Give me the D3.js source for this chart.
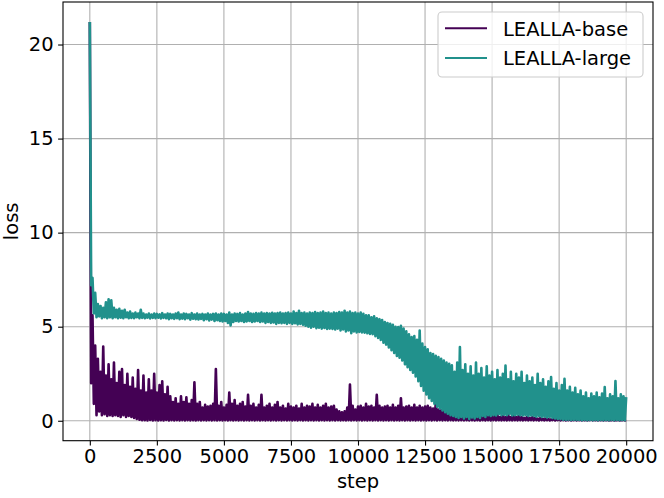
<!DOCTYPE html>
<html>
<head>
<meta charset="utf-8">
<script src="https://cdn.jsdelivr.net/npm/d3@7"></script>
<style>
	body { margin: 0; background: #fff; }
	text { font-family: "DejaVu Sans", sans-serif; }
</style>
</head>
<body>
<svg id="chart"></svg>
<script>
// DATA (loss, one value every 50 steps)

var stepSize = 50;

var xTicks = [0, 2500, 5000, 7500, 10000, 12500, 15000, 17500, 20000];
var yTicks = [0, 5, 10, 15, 20];

var seriesNames = ["LEALLA-base", "LEALLA-large"];

var baseLoss = [21.2,
	2.0,5.6,0.9,4.0,0.3,3.3,0.5,2.6,0.3,3.95,
	0.35,2.4,0.25,3.0,0.3,2.2,0.25,3.1,0.3,2.0,
	0.25,2.6,0.2,2.75,0.3,1.9,0.2,2.5,0.25,1.8,
	0.2,2.3,0.15,1.7,0.1,2.7,0.05,1.6,0.03,2.4,
	0.03,1.5,0.02,2.2,0.04,1.6,0.02,2.5,0.03,1.5,
	0.02,1.9,0.03,2.1,0.02,1.4,0.04,1.8,0.02,1.3,
	0.03,1.0,0.02,1.2,0.03,0.9,0.02,1.3,0.03,1.0,
	0.02,1.25,0.03,0.9,0.02,1.1,0.03,2.05,0.02,0.9,
	0.03,1.0,0.02,0.7,0.03,0.85,0.02,0.75,0.03,0.8,
	0.02,0.9,0.03,2.75,0.02,0.8,0.03,1.0,0.02,0.7,
	0.03,0.85,0.02,1.5,0.03,0.9,0.02,1.1,0.03,0.8,
	0.02,0.9,0.03,1.0,0.02,0.75,0.03,1.38,0.02,0.8,
	0.03,0.9,0.02,0.7,0.03,0.85,0.02,1.38,0.03,0.7,
	0.02,0.8,0.03,0.9,0.02,0.7,0.03,0.85,0.02,1.0,
	0.03,0.7,0.02,0.8,0.03,0.65,0.02,0.9,0.03,0.75,
	0.02,0.7,0.03,0.8,0.02,0.65,0.03,0.9,0.02,0.7,
	0.03,0.8,0.02,0.75,0.03,0.9,0.02,0.7,0.03,0.85,
	0.02,0.7,0.03,0.8,0.02,0.9,0.03,0.7,0.02,0.75,
	0.03,0.8,0.02,0.6,0.03,0.5,0.02,0.45,0.03,0.5,
	0.02,0.7,0.03,1.93,0.02,0.8,0.03,0.6,0.02,0.75,
	0.03,0.8,0.02,0.7,0.03,0.9,0.02,0.75,0.03,0.8,
	0.02,0.7,0.03,1.38,0.02,0.8,0.03,0.7,0.02,0.75,
	0.03,0.8,0.02,0.7,0.03,0.85,0.02,0.7,0.03,0.8,
	0.02,1.2,0.03,0.7,0.02,0.75,0.03,0.8,0.02,0.7,
	0.03,0.85,0.02,0.7,0.03,0.8,0.02,0.7,0.03,0.75,
	0.02,0.8,0.03,0.7,0.02,0.65,0.03,0.93,0.02,0.6,
	0.03,0.55,0.02,0.6,0.03,0.5,0.02,0.55,0.03,0.5,
	0.02,0.45,0.03,0.5,0.02,0.4,0.03,0.45,0.02,0.4,
	0.03,0.35,0.02,0.4,0.03,0.35,0.02,0.3,0.03,0.35,
	0.02,0.3,0.03,0.3,0.02,0.25,0.03,0.3,0.02,0.46,
	0.03,0.25,0.02,0.3,0.03,0.2,0.02,0.25,0.03,0.2,
	0.02,0.3,0.03,0.2,0.02,0.5,0.03,0.2,0.02,0.25,
	0.03,0.2,0.02,0.15,0.03,0.2,0.02,0.15,0.03,0.2,
	0.02,0.15,0.03,0.12,0.02,0.15,0.03,0.1,0.02,0.12,
	0.03,0.1,0.02,0.08,0.03,0.1,0.02,0.08,0.03,0.1,
	0.02,0.07,0.03,0.08,0.02,0.06,0.03,0.08,0.02,0.06,
	0.03,0.07,0.02,0.05,0.03,0.06,0.02,0.05,0.03,0.06,
	0.02,0.05,0.03,0.1,0.02,0.05,0.03,0.06,0.02,0.05,
	0.03,0.05,0.02,0.06,0.03,0.05,0.02,0.04,0.03,0.05,
	0.02,0.04,0.03,0.05,0.02,0.04,0.03,0.05,0.02,0.04];

var largeLoss = [21.2,
	7.2,7.6,5.7,6.8,5.5,6.2,5.55,6.1,5.45,6.0,
	5.5,6.3,5.45,6.45,5.5,6.4,5.45,6.0,5.5,5.9,
	5.45,5.95,5.48,5.85,5.45,5.9,5.5,5.75,5.45,5.8,
	5.47,5.7,5.45,5.75,5.5,5.7,5.45,5.9,5.47,5.7,
	5.45,5.65,5.48,5.7,5.44,5.65,5.47,5.7,5.45,5.68,
	5.48,5.65,5.44,5.72,5.47,5.65,5.45,5.7,5.4,5.68,
	5.45,5.65,5.42,5.7,5.45,5.75,5.4,5.65,5.43,5.7,
	5.4,5.68,5.45,5.65,5.38,5.72,5.42,5.65,5.4,5.7,
	5.38,5.65,5.42,5.68,5.35,5.65,5.4,5.7,5.33,5.65,
	5.38,5.68,5.3,5.7,5.35,5.65,5.3,5.7,5.28,5.68,
	5.3,5.65,5.2,5.75,5.07,5.65,5.25,5.7,5.3,5.68,
	5.28,5.72,5.3,5.65,5.25,5.7,5.28,5.78,5.3,5.7,
	5.25,5.68,5.28,5.72,5.3,5.7,5.25,5.75,5.28,5.7,
	5.2,5.72,5.25,5.7,5.2,5.74,5.22,5.7,5.15,5.72,
	5.2,5.75,5.18,5.7,5.2,5.72,5.15,5.75,5.2,5.7,
	5.15,5.8,5.18,5.72,5.12,5.85,5.15,5.72,5.1,5.75,
	5.05,5.7,5.0,5.75,4.95,5.72,5.0,5.78,4.92,5.72,
	4.95,5.75,4.9,5.8,4.93,5.72,4.88,5.75,4.9,5.7,
	4.88,5.75,4.85,5.72,4.9,5.78,4.8,5.75,4.85,5.85,
	4.75,5.75,4.8,5.8,4.65,5.72,4.75,5.75,4.7,5.7,
	4.72,5.75,4.7,5.68,4.68,5.6,4.65,5.6,4.62,5.5,
	4.6,5.55,4.5,5.45,4.4,5.4,4.3,5.35,4.15,5.25,
	4.05,5.2,3.9,5.15,3.75,5.1,3.6,5.0,3.45,4.98,
	3.35,5.05,3.2,4.9,3.0,4.75,2.85,4.6,2.7,4.45,
	2.55,4.5,2.35,4.3,2.1,4.8,1.85,4.1,1.6,3.92,
	1.4,3.8,1.2,3.6,1.05,3.55,0.9,3.45,0.75,3.38,
	0.65,3.3,0.55,3.2,0.45,3.1,0.37,3.03,0.3,2.95,
	0.25,2.6,0.2,3.1,0.15,3.92,0.2,2.7,0.12,3.0,
	0.2,2.5,0.1,2.9,0.18,2.4,0.12,3.1,0.2,2.5,
	0.15,2.8,0.25,2.3,0.2,2.9,0.3,2.4,0.25,2.6,
	0.3,2.2,0.28,2.7,0.35,2.3,0.3,2.5,0.32,2.94,
	0.3,2.2,0.35,2.6,0.28,2.1,0.3,2.5,0.32,2.3,
	0.3,2.6,0.28,2.0,0.3,2.4,0.25,2.1,0.28,2.3,
	0.25,1.9,0.22,2.5,0.25,2.0,0.2,2.2,0.22,1.8,
	0.18,2.1,0.2,2.32,0.15,1.7,0.12,2.0,0.1,1.6,
	0.08,1.9,0.06,2.23,0.05,1.6,0.06,1.8,0.04,1.5,
	0.05,1.75,0.04,1.4,0.05,1.6,0.03,1.3,0.04,1.5,
	0.03,1.2,0.04,1.45,0.03,1.3,0.04,1.5,0.03,1.25,
	0.04,1.45,0.03,1.79,0.04,1.2,0.03,1.4,0.04,1.3,
	0.03,2.11,0.04,1.2,0.03,1.4,0.04,1.3,0.03,1.26];

var colors = ["#440154", "#21918c"];

// DIMENSIONS

var width = 664,
	height = 498,
	plotLeft = 63,
	plotRight = 653,
	plotTop = 2,
	plotBottom = 440.7,
	fontSize = 19.5;

var svg = d3.select("#chart")
	.attr('width', width)
	.attr('height', height);

// SCALES

var xScale = d3.scaleLinear()
	.domain([-1000, 21000])
	.range([plotLeft, plotRight]);

var yScale = d3.scaleLinear()
	.domain([-1.06, 22.26])
	.range([plotBottom, plotTop]);

// grid

svg.append('g')
	.selectAll('line').data(xTicks)
	.enter().append('line')
	.attr('x1', function(d) { return xScale(d); })
	.attr('x2', function(d) { return xScale(d); })
	.attr('y1', plotTop)
	.attr('y2', plotBottom)
	.style('stroke', '#b0b0b0')
	.style('stroke-width', 1.1);

svg.append('g')
	.selectAll('line').data(yTicks)
	.enter().append('line')
	.attr('x1', plotLeft)
	.attr('x2', plotRight)
	.attr('y1', function(d) { return yScale(d); })
	.attr('y2', function(d) { return yScale(d); })
	.style('stroke', '#b0b0b0')
	.style('stroke-width', 1.1);

// lines

var line = d3.line()
	.x(function(d, i) { return xScale(i * stepSize); })
	.y(function(d) { return yScale(d); });

svg.selectAll('path.loss').data([baseLoss, largeLoss])
	.enter().append('path')
	.attr('class', 'loss')
	.attr('d', line)
	.style('fill', 'none')
	.style('stroke', function(d, i) { return colors[i]; })
	.style('stroke-width', 2.6)
	.style('stroke-linejoin', 'round');

// axes

var xAxis = d3.axisBottom(xScale)
	.tickValues(xTicks)
	.tickSize(4.9)
	.tickPadding(4)
	.tickFormat(d3.format('d'));

var yAxis = d3.axisLeft(yScale)
	.tickValues(yTicks)
	.tickSize(4.9)
	.tickPadding(4.5)
	.tickFormat(d3.format('d'));

var xGuide = svg.append('g')
	.attr('transform', 'translate(0, ' + plotBottom + ')')
	.call(xAxis);

var yGuide = svg.append('g')
	.attr('transform', 'translate(' + plotLeft + ', 0)')
	.call(yAxis);

[xGuide, yGuide].forEach(function(g) {
	g.select('.domain').remove();
	g.selectAll('line').style('stroke', '#000').style('stroke-width', 1.1);
	g.selectAll('text')
		.style('font-family', '"DejaVu Sans", sans-serif')
		.style('font-size', fontSize + 'px')
		.style('fill', '#000');
});

svg.append('rect')
	.attr('x', plotLeft)
	.attr('y', plotTop)
	.attr('width', plotRight - plotLeft)
	.attr('height', plotBottom - plotTop)
	.style('fill', 'none')
	.style('stroke', '#000')
	.style('stroke-width', 1.1);

// labels

svg.append('text')
	.attr('x', (plotLeft + plotRight) / 2)
	.attr('y', 488)
	.attr('text-anchor', 'middle')
	.style('font-size', fontSize + 'px')
	.text('step');

svg.append('text')
	.attr('transform', 'translate(18, ' + ((plotTop + plotBottom) / 2) + ') rotate(-90)')
	.attr('text-anchor', 'middle')
	.style('font-size', fontSize + 'px')
	.text('loss');

// legend

var legend = svg.append('g');

legend.append('rect')
	.attr('x', 438)
	.attr('y', 12)
	.attr('width', 205)
	.attr('height', 65)
	.attr('rx', 4)
	.style('fill', '#fff')
	.style('fill-opacity', 0.8)
	.style('stroke', '#cccccc')
	.style('stroke-width', 1.1);

var entry = legend.selectAll('g.entry').data(seriesNames)
	.enter().append('g')
	.attr('class', 'entry')
	.attr('transform', function(d, i) { return 'translate(0, ' + (28.3 + i * 29.7) + ')'; });

entry.append('line')
	.attr('x1', 445)
	.attr('x2', 487)
	.style('stroke', function(d, i) { return colors[i]; })
	.style('stroke-width', 2);

entry.append('text')
	.attr('x', 503)
	.attr('y', 7.2)
	.style('font-size', fontSize + 'px')
	.text(function(d) { return d; });
</script>
</body>
</html>
